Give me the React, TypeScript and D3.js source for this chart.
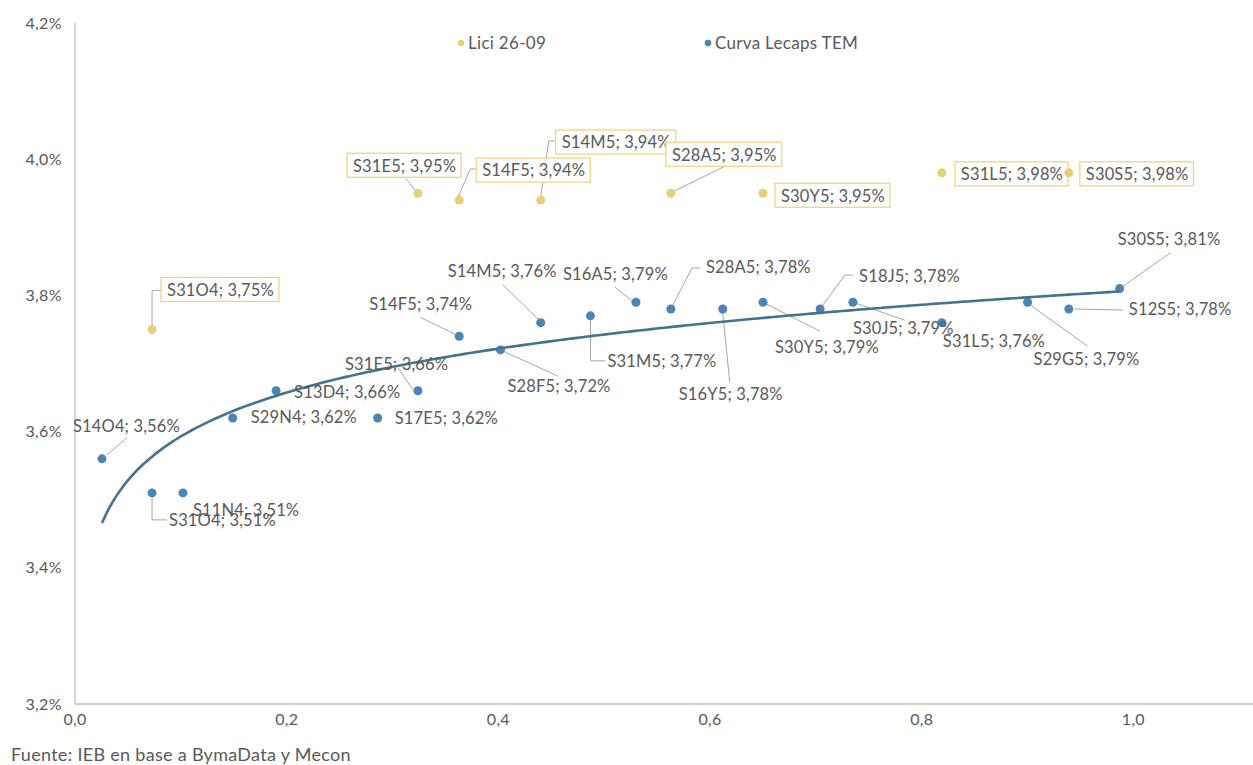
import React, { useEffect, useRef } from "react";
import * as d3 from "d3";

// Curva Lecaps TEM (plazo en años, TEM %)
const curvaNames = ["S14O4", "S31O4", "S11N4", "S29N4", "S13D4", "S17E5", "S31E5", "S14F5", "S28F5", "S14M5", "S31M5", "S16A5", "S28A5", "S16Y5", "S30Y5", "S18J5", "S30J5", "S31L5", "S29G5", "S12S5", "S30S5"];
const curvaPlazo = [0.0255, 0.0728, 0.102, 0.149, 0.19, 0.286, 0.324, 0.363, 0.402, 0.44, 0.487, 0.53, 0.563, 0.612, 0.65, 0.704, 0.735, 0.819, 0.9, 0.939, 0.987];
const curvaTem = [3.56, 3.51, 3.51, 3.62, 3.66, 3.62, 3.66, 3.74, 3.72, 3.76, 3.77, 3.79, 3.78, 3.78, 3.79, 3.78, 3.79, 3.76, 3.79, 3.78, 3.81];

// Licitación 26-09
const liciNames = ["S31O4", "S31E5", "S14F5", "S14M5", "S28A5", "S30Y5", "S31L5", "S30S5"];
const liciPlazo = [0.0728, 0.324, 0.363, 0.44, 0.563, 0.65, 0.819, 0.939];
const liciTem = [3.75, 3.95, 3.94, 3.94, 3.95, 3.95, 3.98, 3.98];

const xTicks = [0, 0.2, 0.4, 0.6, 0.8, 1.0];
const yTicks = [3.2, 3.4, 3.6, 3.8, 4.0, 4.2];

const seriesNames = ["Lici 26-09", "Curva Lecaps TEM"];
const sourceNote = "Fuente: IEB en base a BymaData y Mecon";

// Label placement relative to each point: text left/center offset and leader path
type Lay = { tx: number; ty: number; leader?: [number, number][] };
const curvaLayout: Lay[] = [
  { tx: -29, ty: -33, leader: [[5, -4], [25, -21]] },
  { tx: 17, ty: 27, leader: [[0, 5], [0, 27], [15, 27]] },
  { tx: 10, ty: 17 },
  { tx: 18, ty: -1 },
  { tx: 18, ty: 1 },
  { tx: 17, ty: 0 },
  { tx: -73, ty: -27, leader: [[-5, -1], [-20, -23]] },
  { tx: -90, ty: -32, leader: [[-4, -2], [-39, -19]] },
  { tx: 7, ty: 36, leader: [[2, 1], [57, 26]] },
  { tx: -93, ty: -51, leader: [[-2, -3], [-38, -38]] },
  { tx: 17, ty: 45, leader: [[0, 4], [0, 45], [15, 45]] },
  { tx: -73, ty: -28, leader: [[-3, -1], [-21, -15]] },
  { tx: 35, ty: -42, leader: [[1, -2], [21, -41], [29, -41]] },
  { tx: -44, ty: 85, leader: [[0, 4], [7, 73]] },
  { tx: 12, ty: 45, leader: [[2, 1], [57, 29]] },
  { tx: 39, ty: -33, leader: [[2, -3], [25, -34], [33, -34]] },
  { tx: 0, ty: 26, leader: [[3, 1], [52, 18]] },
  { tx: 1, ty: 19 },
  { tx: 6, ty: 57, leader: [[3, 3], [60, 44]] },
  { tx: 60, ty: 0, leader: [[5, 0], [54, 1]] },
  { tx: -2, ty: -49, leader: [[3, -2], [51, -36]] },
];
// Boxed labels: box left / top offsets
type Box = { bx: number; by: number; leader?: [number, number][] };
const liciLayout: Box[] = [
  { bx: 9, by: -52, leader: [[0, -4], [0, -39], [9, -39]] },
  { bx: -71, by: -40, leader: [[-3, -3], [-12, -15]] },
  { bx: 17, by: -42, leader: [[-1, -3], [11, -31], [17, -31]] },
  { bx: 15, by: -70, leader: [[0, -4], [8, -59], [15, -59]] },
  { bx: -5, by: -51, leader: [[3, -2], [56, -28]] },
  { bx: 12, by: -10 },
  { bx: 13, by: -11 },
  { bx: 11, by: -11 },
];

const W = 1253;
const H = 765;
const M = { left: 75, right: 0, top: 23, bottom: 61 };
const BLUE = "#4d84b2";
const TREND = "#44738f";
const GOLD = "#ebcf76";
const BOX = "#efd582";
const TEXT = "#595959";
const FONT = "Lato, 'Open Sans', sans-serif";
const fmt = (v: number, d: number) => v.toFixed(d).replace(".", ",");

export default function App() {
  const ref = useRef<SVGSVGElement | null>(null);

  useEffect(() => {
    const svg = d3.select(ref.current!);
    svg.selectAll("*").remove();

    const x = d3.scaleLinear().domain([0, 1.113]).range([M.left, W - M.right]);
    const y = d3.scaleLinear().domain([3.2, 4.2]).range([H - M.bottom, M.top]);

    const fs = 16.5;
    const ls = 0.15;

    // axes
    svg.append("line").attr("x1", x(0)).attr("x2", W).attr("y1", y(3.2)).attr("y2", y(3.2))
      .attr("stroke", "#bfbfbf").attr("stroke-width", 1.3);
    svg.append("line").attr("x1", x(0)).attr("x2", x(0)).attr("y1", y(4.2)).attr("y2", y(3.2))
      .attr("stroke", "#bfbfbf").attr("stroke-width", 1.3);

    svg.append("g").selectAll("text").data(yTicks).join("text")
      .attr("x", x(0) - 13).attr("y", (d) => y(d)).attr("dy", "0.35em")
      .attr("text-anchor", "end").attr("font-size", 16).attr("letter-spacing", 0.4)
      .attr("fill", TEXT).attr("font-family", FONT)
      .text((d) => fmt(d, 1) + "%");
    svg.append("g").selectAll("text").data(xTicks).join("text")
      .attr("x", (d) => x(d)).attr("y", y(3.2) + 15).attr("dy", "0.35em")
      .attr("text-anchor", "middle").attr("font-size", 16).attr("letter-spacing", 0.3)
      .attr("fill", TEXT).attr("font-family", FONT)
      .text((d) => fmt(d, 1));

    // logarithmic trend of the curve
    const lx = curvaPlazo.map((v) => Math.log(v));
    const mx = d3.mean(lx)!;
    const my = d3.mean(curvaTem)!;
    const b = d3.sum(lx, (v, i) => (v - mx) * (curvaTem[i] - my)) / d3.sum(lx, (v) => (v - mx) ** 2);
    const a = my - b * mx;
    const [x0, x1] = d3.extent(curvaPlazo) as [number, number];
    const trend = d3.range(0, 201).map((i) => {
      const xv = x0 + ((x1 - x0) * i) / 200;
      return [xv, a + b * Math.log(xv)] as [number, number];
    });

    const leaders = svg.append("g").attr("fill", "none").attr("stroke", "#a6a6a6").attr("stroke-width", 1);
    const drawLeader = (px: number, py: number, pts?: [number, number][]) => {
      if (!pts) return;
      leaders.append("path").attr("d", d3.line()(pts.map(([dx, dy]) => [px + dx, py + dy])));
    };

    // curve points and trend
    svg.append("g").selectAll("circle").data(curvaPlazo).join("circle")
      .attr("cx", (d) => x(d)).attr("cy", (_, i) => y(curvaTem[i])).attr("r", 4.5).attr("fill", BLUE);

    svg.append("path").datum(trend)
      .attr("d", d3.line<[number, number]>().x((d) => x(d[0])).y((d) => y(d[1])).curve(d3.curveMonotoneX))
      .attr("fill", "none").attr("stroke", TREND).attr("stroke-width", 2.6);

    // curve labels
    curvaNames.forEach((n, i) => {
      const px = x(curvaPlazo[i]);
      const py = y(curvaTem[i]);
      const l = curvaLayout[i];
      drawLeader(px, py, l.leader);
      svg.append("text").attr("x", px + l.tx).attr("y", py + l.ty).attr("dy", "0.35em")
        .attr("font-size", fs).attr("letter-spacing", ls).attr("fill", TEXT).attr("font-family", FONT)
        .text(`${n}; ${fmt(curvaTem[i], 2)}%`);
    });

    // boxed labels for the auction
    liciNames.forEach((n, i) => {
      const px = x(liciPlazo[i]);
      const py = y(liciTem[i]);
      const l = liciLayout[i];
      drawLeader(px, py, l.leader);
      const g = svg.append("g");
      const rect = g.append("rect").attr("fill", "#fff").attr("stroke", BOX).attr("stroke-width", 1.3);
      const t = g.append("text").attr("x", px + l.bx + 6).attr("y", py + l.by + 12.5).attr("dy", "0.35em")
        .attr("font-size", fs).attr("letter-spacing", ls).attr("fill", TEXT).attr("font-family", FONT)
        .text(`${n}; ${fmt(liciTem[i], 2)}%`);
      const w = (t.node() as SVGTextElement).getComputedTextLength();
      rect.attr("x", px + l.bx).attr("y", py + l.by).attr("width", w + 11).attr("height", 24);
    });

    // auction points on top of the boxes
    svg.append("g").selectAll("circle").data(liciPlazo).join("circle")
      .attr("cx", (d) => x(d)).attr("cy", (_, i) => y(liciTem[i])).attr("r", 4.5).attr("fill", GOLD);

    // legend
    const legend = [
      { name: seriesNames[0], color: GOLD, x: 461 },
      { name: seriesNames[1], color: BLUE, x: 708 },
    ];
    legend.forEach((d) => {
      svg.append("circle").attr("cx", d.x).attr("cy", 43).attr("r", 3.3).attr("fill", d.color);
      svg.append("text").attr("x", d.x + 7).attr("y", 43).attr("dy", "0.35em")
        .attr("font-size", 17).attr("letter-spacing", 0.3).attr("fill", TEXT).attr("font-family", FONT).text(d.name);
    });

    svg.append("text").attr("x", 11).attr("y", 755).attr("dy", "0.35em")
      .attr("font-size", 18).attr("letter-spacing", 0.3).attr("fill", TEXT).attr("font-family", FONT).text(sourceNote);
  }, []);

  return (
    <svg ref={ref} width={W} height={H}
      style={{ position: "absolute", left: 0, top: 0, background: "#fff", display: "block" }} />
  );
}
